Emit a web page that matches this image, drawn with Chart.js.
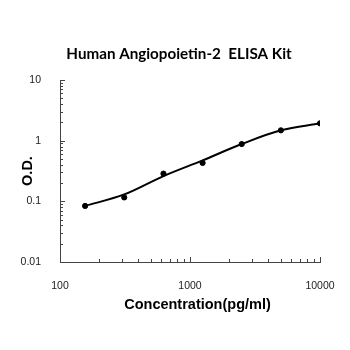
<!DOCTYPE html>
<html>
<head>
<meta charset="utf-8">
<script src="https://cdn.jsdelivr.net/npm/chart.js@4/dist/chart.umd.min.js"></script>
<style>
  html, body { margin: 0; padding: 0; background: #ffffff; }
  #wrap { width: 350px; height: 350px; }
</style>
</head>
<body>
<div id="wrap"><canvas id="chart" width="350" height="350"></canvas></div>
<script>
// standard concentrations (pg/ml) and measured O.D.
const concentrations = [156, 312, 625, 1250, 2500, 5000, 10000];
const odValues = [0.084, 0.116, 0.286, 0.43, 0.88, 1.48, 1.93];
// fitted standard curve, read at the same concentrations
const fitOd = [0.084, 0.130, 0.261, 0.473, 0.88, 1.48, 1.93];

const xTickLabels = ['100', '1000', '10000'];
const yTickLabels = ['0.01', '0.1', '1', '10'];

const chartTitle = 'Human Angiopoietin-2  ELISA Kit';
const xTitle = 'Concentration(pg/ml)';
const yTitle = 'O.D.';

const isDecade = (v) => {
    const l = Math.log10(v);
    return Math.abs(l - Math.round(l)) < 1e-9;
};

// 1..9 x 10^n between min and max of a log scale
const logSteps = (scale) => {
    const out = [];
    for (let e = Math.floor(Math.log10(scale.min)); e <= Math.ceil(Math.log10(scale.max)); e++) {
        for (let k = 1; k <= 9; k++) {
            const v = k * Math.pow(10, e);
            if (v >= scale.min * 0.999 && v <= scale.max * 1.001) out.push(v);
        }
    }
    return out;
};

// inner tick marks plus the chart title and x axis title
const decorations = {
    id: 'decorations',
    afterDraw(chart) {
        const c = chart.ctx;
        const area = chart.chartArea;
        const xs = chart.scales.x;
        const ys = chart.scales.y;
        c.save();
        c.strokeStyle = '#444';
        c.lineWidth = 1;
        logSteps(xs).forEach(v => {
            const px = Math.round(xs.getPixelForValue(v)) + 0.5;
            const len = isDecade(v) ? 5 : 3;
            c.beginPath();
            c.moveTo(px, area.bottom);
            c.lineTo(px, area.bottom - len);
            c.stroke();
        });
        logSteps(ys).forEach(v => {
            const py = Math.round(ys.getPixelForValue(v)) + 0.5;
            const len = isDecade(v) ? 5 : 3;
            c.beginPath();
            c.moveTo(area.left, py);
            c.lineTo(area.left + len, py);
            c.stroke();
        });

        c.fillStyle = '#000';
        c.textAlign = 'center';
        c.textBaseline = 'middle';
        c.font = 'bold 15.2px Lato';
        c.fillText(chartTitle, 179, 54.5);
        c.font = 'bold 14.5px "Liberation Sans"';
        c.fillText(xTitle, 197.5, 305);
        c.restore();
    }
};

const ctx = document.getElementById('chart').getContext('2d');
new Chart(ctx, {
    data: {
        datasets: [
            {
                type: 'line',
                data: concentrations.map((c, i) => ({ x: c, y: fitOd[i] })),
                borderColor: '#000',
                borderWidth: 2,
                pointRadius: 0,
                cubicInterpolationMode: 'monotone',
                fill: false
            },
            {
                type: 'scatter',
                data: concentrations.map((c, i) => ({ x: c, y: odValues[i] })),
                backgroundColor: '#000',
                borderColor: '#000',
                pointRadius: 2.6,
                pointHoverRadius: 2.6
            }
        ]
    },
    options: {
        responsive: false,
        animation: false,
        layout: { padding: { left: 0, right: 30, top: 80, bottom: 0 } },
        plugins: {
            legend: { display: false },
            tooltip: { enabled: false },
            title: { display: false }
        },
        scales: {
            x: {
                type: 'logarithmic',
                min: 100,
                max: 10000,
                grid: { display: false },
                border: { display: true, color: '#444', width: 1 },
                ticks: {
                    autoSkip: false,
                    maxRotation: 0,
                    padding: 10,
                    color: '#222',
                    font: { family: 'Liberation Sans', size: 10.5 },
                    callback: (v) => isDecade(v) && xTickLabels.includes(String(v)) ? String(v) : ''
                },
                afterFit: (scale) => { scale.height = 88; }
            },
            y: {
                type: 'logarithmic',
                min: 0.01,
                max: 10,
                grid: { display: false },
                border: { display: true, color: '#444', width: 1 },
                ticks: {
                    autoSkip: false,
                    padding: 11,
                    color: '#222',
                    font: { family: 'Liberation Sans', size: 10.5 },
                    callback: (v) => isDecade(v) && yTickLabels.includes(String(v)) ? String(v) : ''
                },
                title: {
                    display: true,
                    text: yTitle,
                    color: '#000',
                    font: { family: 'Liberation Sans', size: 14.5, weight: 'bold' },
                    padding: { top: 19, bottom: 0 }
                },
                afterFit: (scale) => { scale.width = 60; }
            }
        }
    },
    plugins: [decorations]
});
</script>
</body>
</html>
